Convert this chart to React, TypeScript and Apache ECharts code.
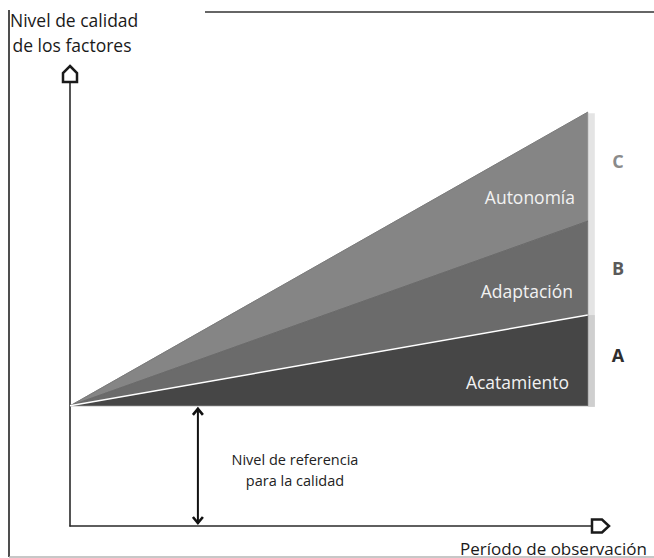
import React, { useEffect, useRef } from 'react';
import * as echarts from 'echarts';

// Observation period (x) and quality levels (y) at start / end of the period
const periods = [0, 100];
const baseLevel = [27, 27];
const acatamientoTop = [27, 47.4];
const adaptacionTop = [27, 68.5];
const autonomiaTop = [27, 93];
const layerNames = ['Acatamiento', 'Adaptación', 'Autonomía'];
const layerLetters = ['A', 'B', 'C'];
const referenceX = 24.7;
const xAxisMax = 101;
const yAxisMax = 100;

export default function App() {
  const ref = useRef<HTMLDivElement>(null);
  useEffect(() => {
    document.body.style.margin = '0';
    const chart = echarts.init(ref.current!, undefined, { renderer: 'svg' });
    const font = '"Open Sans", sans-serif';
    const lowers = [baseLevel, acatamientoTop, adaptacionTop];
    const uppers = [acatamientoTop, adaptacionTop, autonomiaTop];
    const fills = ['#464646', '#6b6b6b', '#858585'];
    const edges = ['#ffffff', '#6a6a6a', '#7a7a7a'];
    const axisCommon = {
      axisLine: { show: true, onZero: false, lineStyle: { color: '#2a2a2a', width: 1.6 } },
      axisTick: { show: false },
      axisLabel: { show: false },
      splitLine: { show: false },
    };
    chart.setOption({
      animation: false,
      grid: { left: 70, right: 61, top: 81, bottom: 32 },
      xAxis: { type: 'value', min: 0, max: xAxisMax, ...axisCommon },
      yAxis: { type: 'value', min: 0, max: yAxisMax, ...axisCommon },
      series: [
        {
          type: 'custom',
          coordinateSystem: 'cartesian2d',
          silent: true,
          data: [[2], [1], [0]],
          encode: { x: 0 },
          renderItem: (params: any, api: any) => {
            const i = api.value(0);
            const lo = lowers[i];
            const up = uppers[i];
            const p0 = api.coord([periods[0], lo[0]]);
            const p1 = api.coord([periods[1], lo[1]]);
            const p2 = api.coord([periods[1], up[1]]);
            const p3 = api.coord([periods[0], up[0]]);
            return {
              type: 'group',
              children: [
                { type: 'polygon', shape: { points: [p0, p1, p2, p3] }, style: { fill: fills[i], stroke: fills[i], lineWidth: 0.5 } },
                { type: 'line', shape: { x1: p3[0], y1: p3[1], x2: p2[0], y2: p2[1] }, style: { stroke: edges[i], lineWidth: i === 0 ? 1.5 : 1 } },
              ],
            };
          },
        },
      ],
    });

    const px = (x: number, y: number) => chart.convertToPixel({ gridIndex: 0 }, [x, y]) as number[];
    const last = periods.length - 1;
    const endX = px(periods[last], 0)[0];
    const baseY = px(0, baseLevel[0])[1];
    const tops = [acatamientoTop[last], adaptacionTop[last], autonomiaTop[last]].map((v) => px(periods[last], v)[1]);
    const origin = px(0, 0);
    const xEnd = px(xAxisMax, 0);
    const yEnd = px(0, yAxisMax);
    const refX = px(referenceX, 0)[0];

    const stroke = { stroke: '#1a1a1a', lineWidth: 2.5, fill: '#ffffff' };
    const ux = yEnd[0];
    const uy = yEnd[1];
    const bx = xEnd[0] - 1;
    const by = xEnd[1];

    const bottoms = [baseY, tops[0], tops[1]];
    const labelRights = [569, 573, 575];
    const letterColors = ['#2e2e2e', '#5a5a5a', '#8a8a8a'];
    const letterYs = [0, 1, 2].map((i) => (bottoms[i] + tops[i]) / 2 - (i === 2 ? 6 : i === 0 ? 5 : 0));

    const graphics: any[] = [
      // frame
      { type: 'line', shape: { x1: 9, y1: 10, x2: 9, y2: 557 }, style: { stroke: '#222', lineWidth: 1.6 } },
      { type: 'line', shape: { x1: 205, y1: 12, x2: 654, y2: 12 }, style: { stroke: '#333', lineWidth: 1.6 } },
      { type: 'line', shape: { x1: 9, y1: 557, x2: 654, y2: 557 }, style: { stroke: '#b4b4b4', lineWidth: 1.5 } },
      // side strip
      { type: 'rect', shape: { x: endX, y: tops[2] + 1, width: 7, height: baseY - tops[2] }, style: { fill: '#e4e4e4' }, z: 1 },
      { type: 'rect', shape: { x: endX, y: tops[0], width: 7, height: baseY - tops[0] + 1 }, style: { fill: '#cfcfcf' }, z: 1 },
      // axis arrow heads
      {
        type: 'polygon', z: 10,
        shape: { points: [[ux, uy - 15], [ux + 7, uy - 8], [ux + 7, uy + 1], [ux - 7, uy + 1], [ux - 7, uy - 8]] },
        style: stroke,
      },
      {
        type: 'polygon', z: 10,
        shape: { points: [[bx, by - 6.5], [bx + 10, by - 6.5], [bx + 17, by], [bx + 10, by + 6.5], [bx, by + 6.5]] },
        style: stroke,
      },
      // reference double arrow
      { type: 'line', z: 10, shape: { x1: refX, y1: baseY + 2, x2: refX, y2: origin[1] - 2 }, style: { stroke: '#111', lineWidth: 2 } },
      { type: 'polyline', z: 10, shape: { points: [[refX - 5, baseY + 9], [refX, baseY + 3], [refX + 5, baseY + 9]] }, style: { stroke: '#111', lineWidth: 2.6, fill: null } },
      { type: 'polyline', z: 10, shape: { points: [[refX - 5, origin[1] - 9], [refX, origin[1] - 3], [refX + 5, origin[1] - 9]] }, style: { stroke: '#111', lineWidth: 2.6, fill: null } },
      // texts
      { type: 'text', z: 10, style: { text: 'Nivel de calidad', x: 10, y: 20, fill: '#1a1a1a', font: `17.5px ${font}`, align: 'left', verticalAlign: 'middle' } },
      { type: 'text', z: 10, style: { text: 'de los factores', x: 72, y: 45, fill: '#1a1a1a', font: `17.5px ${font}`, align: 'center', verticalAlign: 'middle' } },
      { type: 'text', z: 10, style: { text: 'Período de observación', x: 460, y: 548, fill: '#1a1a1a', font: `17px ${font}`, align: 'left', verticalAlign: 'middle' } },
      { type: 'text', z: 10, style: { text: 'Nivel de referencia', x: 295, y: 459, fill: '#222', font: `14.5px ${font}`, align: 'center', verticalAlign: 'middle' } },
      { type: 'text', z: 10, style: { text: 'para la calidad', x: 295, y: 480, fill: '#222', font: `14.5px ${font}`, align: 'center', verticalAlign: 'middle' } },
    ];
    layerNames.forEach((name, i) => {
      graphics.push({
        type: 'text', z: 10,
        style: { text: name, x: labelRights[i], y: bottoms[i] - 24, fill: '#f2f2f2', font: `17.5px ${font}`, align: 'right', verticalAlign: 'middle' },
      });
      graphics.push({
        type: 'text', z: 10,
        style: { text: layerLetters[i], x: 618, y: letterYs[i], fill: letterColors[i], font: `bold 18px ${font}`, align: 'center', verticalAlign: 'middle' },
      });
    });
    chart.setOption({ graphic: graphics });

    return () => chart.dispose();
  }, []);
  return <div ref={ref} style={{ width: 654, height: 558 }} />;
}
